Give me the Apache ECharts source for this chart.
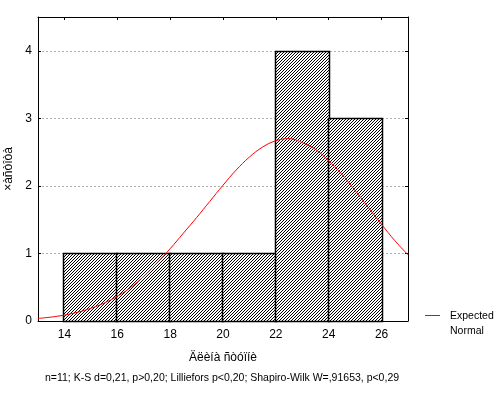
<!DOCTYPE html>
<html>
<head>
<meta charset="utf-8">
<script src="https://cdn.jsdelivr.net/npm/echarts@6/dist/echarts.min.js"></script>
<style>html,body{margin:0;padding:0;background:#fff}#c{width:502px;height:394px}</style>
</head>
<body>
<div id="c"></div>
<script>
const binStart = [14, 16, 18, 20, 22, 24];
const binEnd = [16, 18, 20, 22, 24, 26];
const frequencies = [1, 1, 1, 1, 4, 3];
const curveX = [13, 13.5, 14, 14.5, 15, 15.5, 16, 16.5, 17, 17.5, 18, 18.5, 19, 19.5, 20, 20.5, 21, 21.5, 22, 22.5, 23, 23.5, 24, 24.5, 25, 25.5, 26, 26.5, 27];
const curveY = [0.038, 0.058, 0.088, 0.130, 0.188, 0.265, 0.365, 0.495, 0.66, 0.86, 1.07, 1.30, 1.53, 1.77, 2.01, 2.235, 2.427, 2.575, 2.668, 2.70, 2.64, 2.54, 2.37, 2.17, 1.93, 1.68, 1.43, 1.19, 0.98];
const xTicks = [14, 16, 18, 20, 22, 24, 26];
const yTicks = [0, 1, 2, 3, 4];
const xName = 'Äëèíà ñòóïíè';
const yName = '×àñòîòà';
const seriesName = 'Expected\nNormal';
const footnote = 'n=11; K-S d=0,21, p>0,20; Lilliefors p<0,20; Shapiro-Wilk W=,91653, p<0,29';

const FONT = 'Liberation Sans, Arial, sans-serif';

// hatch pattern
const pc = document.createElement('canvas');
pc.width = 3; pc.height = 3;
const pctx = pc.getContext('2d');
pctx.fillStyle = '#fff'; pctx.fillRect(0, 0, 3, 3);
pctx.fillStyle = '#000';
pctx.fillRect(0, 2, 1, 1); pctx.fillRect(1, 1, 1, 1); pctx.fillRect(2, 0, 1, 1);
const hatch = { image: pc, repeat: 'repeat' };

const histData = binStart.map((s, i) => [s, binEnd[i], frequencies[i]]);
const curveData = curveX.map((x, i) => [x, curveY[i]]);

const chart = echarts.init(document.getElementById('c'));
chart.setOption({
  animation: false,
  backgroundColor: '#fff',
  grid: { left: 38, right: 94, top: 17, bottom: 73, containLabel: false, outerBoundsMode: 'none' },
  xAxis: [{
    type: 'value', min: 13, max: 27, position: 'bottom',
    name: xName, nameLocation: 'middle', nameGap: 31,
    nameTextStyle: { fontFamily: FONT, fontSize: 12, color: '#000' },
    axisLine: { show: true, onZero: false, lineStyle: { color: '#000', width: 1 } },
    axisTick: { show: true, inside: true, length: 4, customValues: xTicks, lineStyle: { color: '#000' } },
    axisLabel: { customValues: xTicks, fontFamily: FONT, fontSize: 12, color: '#000', margin: 8 },
    splitLine: { show: false }
  }, {
    type: 'value', min: 13, max: 27, position: 'top',
    axisLine: { show: true, onZero: false, lineStyle: { color: '#000', width: 1 } },
    axisTick: { show: true, inside: true, length: 3, customValues: xTicks, lineStyle: { color: '#000' } },
    axisLabel: { show: false },
    splitLine: { show: false }
  }],
  yAxis: [{
    type: 'value', min: 0, max: 4.5, interval: 1, position: 'left',
    name: yName, nameLocation: 'middle', nameGap: 19, nameRotate: 90,
    nameTextStyle: { fontFamily: FONT, fontSize: 12, color: '#000' },
    axisLine: { show: true, onZero: false, lineStyle: { color: '#000', width: 1 } },
    axisTick: { show: true, inside: true, length: 3, customValues: yTicks, lineStyle: { color: '#000' } },
    axisLabel: { customValues: yTicks, fontFamily: FONT, fontSize: 12, color: '#000', margin: 6 },
    splitLine: { show: true, lineStyle: { color: '#b0b0b0', type: [2, 2], width: 1 } }
  }, {
    type: 'value', min: 0, max: 4.5, interval: 1, position: 'right',
    axisLine: { show: true, onZero: false, lineStyle: { color: '#000', width: 1 } },
    axisTick: { show: true, inside: true, length: 3, customValues: yTicks, lineStyle: { color: '#000' } },
    axisLabel: { show: false },
    splitLine: { show: false }
  }],
  series: [{
    type: 'custom',
    name: 'Histogram',
    xAxisIndex: 0, yAxisIndex: 0,
    data: histData,
    renderItem: function (params, api) {
      const p0 = api.coord([api.value(0), 0]);
      const p1 = api.coord([api.value(1), api.value(2)]);
      const x0 = Math.round(p0[0]), x1 = Math.round(p1[0]);
      const y0 = Math.round(p0[1]), y1 = Math.round(p1[1]);
      return {
        type: 'rect',
        shape: { x: x0 - 0.5, y: y1 + 0.5, width: x1 - x0 + 1, height: y0 - y1 },
        style: { fill: hatch, stroke: '#000', lineWidth: 1.5 }
      };
    },
    z: 2
  }, {
    type: 'line',
    name: seriesName,
    xAxisIndex: 0, yAxisIndex: 0,
    data: curveData,
    smooth: 0.4,
    showSymbol: false,
    lineStyle: { color: '#ff0000', width: 1 },
    itemStyle: { color: '#ff0000' },
    z: 3
  }],
  graphic: [{
    type: 'line',
    shape: { x1: 425, y1: 315.5, x2: 440, y2: 315.5 },
    style: { stroke: '#ff0000', lineWidth: 1 }
  }, {
    type: 'text',
    style: { x: 450, y: 309, text: seriesName, font: '10.5px ' + FONT, fill: '#000', lineHeight: 15 }
  }, {
    type: 'text',
    style: { x: 222, y: 378, text: footnote, font: '10.5px ' + FONT, fill: '#000', align: 'center', verticalAlign: 'middle' }
  }]
});
</script>
</body>
</html>
